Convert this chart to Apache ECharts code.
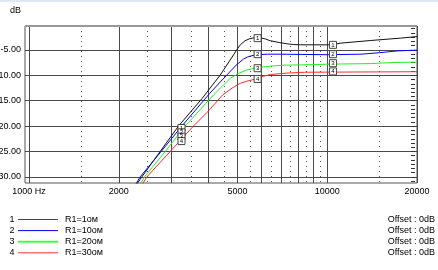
<!DOCTYPE html>
<html><head><meta charset="utf-8">
<script src="https://cdn.jsdelivr.net/npm/echarts@6/dist/echarts.min.js"></script>
<style>html,body{margin:0;padding:0;background:#fff}#c{width:438px;height:270px}</style>
</head><body><div id="c"></div>
<script>
// ---- data ----
const seriesNames = ['R1=1ом', 'R1=10ом', 'R1=20ом', 'R1=30ом'];
const seriesNumbers = ['1', '2', '3', '4'];
const offsetLabels = ['Offset : 0dB', 'Offset : 0dB', 'Offset : 0dB', 'Offset : 0dB'];
const yAxisTitle = 'dB';

// [frequency Hz, level dB]
const curveR1 = [[2300,-31.4],[2389,-30],[2752,-25],[3170,-20],[3800,-14.6],[4370,-10],[4750,-6.8],[4970,-5],[5110,-4.0],[5300,-3.2],[5500,-2.8],[5700,-2.62],[5950,-2.6],[6200,-2.85],[6440,-3.2],[6900,-3.55],[7320,-3.8],[7700,-3.95],[8120,-4.0],[10400,-4.01],[11060,-3.68],[13940,-3.16],[17580,-2.69],[20000,-2.38]];
const curveR10 = [[2280,-31.4],[2358,-30],[2773,-25],[3253,-20],[4030,-13.6],[4380,-11.3],[4610,-9.93],[4950,-8.0],[5240,-6.8],[5400,-6.4],[5590,-6.15],[5840,-5.95],[6300,-5.85],[7000,-5.85],[10000,-5.95],[13000,-5.85],[15000,-5.55],[17200,-5.2],[20000,-5.05]];
const curveR20 = [[2360,-31.4],[2437,-30],[2860,-25],[3338,-20],[3750,-16.75],[4155,-13.88],[4730,-10.58],[5050,-9.6],[5380,-8.94],[5830,-8.49],[6440,-8.2],[7200,-8.0],[8120,-7.96],[10400,-7.8],[13940,-7.7],[16300,-7.5],[20000,-7.4]];
const curveR30 = [[2400,-31.4],[2483,-30],[2973,-25],[3558,-20],[4000,-17.0],[4454,-13.88],[4800,-12.5],[5110,-11.57],[5350,-11.2],[5590,-10.92],[5830,-10.58],[6100,-10.2],[6440,-9.85],[7400,-9.55],[8410,-9.4],[20000,-9.3]];

const xMajorTicks = [1000,2000,3000,4000,5000,6000,7000,8000,9000,10000,20000];
const xMinorTicks = [1500,2500,3500,4500,5500,6500,7500,8500,9500,15000];
const xLabelTicks = [1000,2000,5000,10000,20000];
const yLabelTicks = [-30,-25,-20,-15,-10,-5];

// curve markers: frequency of each marker set, and box levels per curve
const markerFreqs = [3245, 5840, 10450];
const markerLevels = [
  [-20.38, -21.23, -22.08, -22.95],
  [-2.69, -5.85, -8.61, -10.72],
  [-4.01, -5.85, -7.62, -9.24]
];

// ---- styling / build ----
const curves = [curveR1, curveR10, curveR20, curveR30];
const colors = ['#111111', '#0000ff', '#22ee22', '#ff2a2a'];
const legendColors = ['#444444', '#0000ff', '#44ff44', '#ff3333'];
const legendWidths = [1, 1, 2, 1];
const FONT = '"Liberation Sans", Arial, sans-serif';
const X_MIN = 969, X_MAX = 20000, Y_MIN = -31.2, Y_MAX = -0.3;

const yMinor = [];
for (let k = -1; k < 40; k++) { const v = -30 + k * 5 / 6; if (v <= Y_MAX) yMinor.push(+v.toFixed(3)); }

const markerData = [];
markerFreqs.forEach((f, s) => markerLevels[s].forEach((db, i) => markerData.push([f, db, seriesNumbers[i]])));

const series = curves.map((c, i) => ({
  type: 'line', name: seriesNames[i], data: c, xAxisIndex: 0, yAxisIndex: 0,
  showSymbol: false, smooth: false, clip: true,
  lineStyle: { color: colors[i], width: 1 }, itemStyle: { color: colors[i] }, z: 3, animation: false
}));
series.push({
  type: 'scatter', data: markerData, xAxisIndex: 0, yAxisIndex: 0,
  symbol: 'rect', symbolSize: 7, z: 5, animation: false,
  itemStyle: { color: '#fff', borderColor: '#444', borderWidth: 1, opacity: 1 },
  label: { show: true, position: 'inside', formatter: p => p.data[2], fontSize: 6, color: '#000', fontFamily: FONT }
});

const rowsY = [219.5, 230.6, 241.7, 252.8];
const graphics = [
  { type: 'rect', shape: { x: 0, y: 0, width: 438, height: 2 }, style: { fill: '#dfe8f4' } },
  { type: 'line', shape: { x1: 25, y1: 26, x2: 417, y2: 26 }, style: { stroke: '#999', lineWidth: 2 }, z: 100 }
];
seriesNames.forEach((n, i) => {
  const y = rowsY[i];
  graphics.push({ type: 'text', x: 12, y: y, style: { text: seriesNumbers[i], fontSize: 9, fontFamily: FONT, fill: '#000', textAlign: 'center', textVerticalAlign: 'middle' } });
  graphics.push({ type: 'line', shape: { x1: 18, y1: y, x2: 58, y2: y }, style: { stroke: legendColors[i], lineWidth: legendWidths[i] } });
  graphics.push({ type: 'text', x: 65, y: y, style: { text: n, fontSize: 9, fontFamily: FONT, fill: '#000', textVerticalAlign: 'middle' } });
  graphics.push({ type: 'text', x: 435, y: y, style: { text: offsetLabels[i], fontSize: 9, fontFamily: FONT, fill: '#000', textAlign: 'right', textVerticalAlign: 'middle' } });
});

const chart = echarts.init(document.getElementById('c'), null, { renderer: 'canvas' });
chart.setOption({
  animation: false,
  backgroundColor: '#fff',
  grid: { left: 25, right: 21, top: 26, bottom: 87, show: true, borderColor: '#555', borderWidth: 1,
    containLabel: false, outerBoundsMode: 'none' },
  xAxis: [
    { type: 'log', logBase: 10, min: X_MIN, max: X_MAX, gridIndex: 0, position: 'bottom',
      axisLine: { show: false }, axisTick: { show: false, customValues: xMajorTicks },
      splitLine: { show: true, lineStyle: { color: '#4a4a4a', width: 1 } },
      axisLabel: { customValues: xLabelTicks, margin: 4, fontSize: 9, fontFamily: FONT, color: '#000',
        hideOverlap: false, formatter: v => (v === 1000 ? '1000 Hz' : String(v)) } },
    { type: 'log', logBase: 10, min: X_MIN, max: X_MAX, gridIndex: 0, position: 'bottom',
      axisLine: { show: false }, axisTick: { show: false, customValues: xMinorTicks },
      axisLabel: { show: false },
      splitLine: { show: true, lineStyle: { color: '#555', width: 1, type: [1, 4] } } }
  ],
  yAxis: [
    { type: 'value', min: Y_MIN, max: Y_MAX, gridIndex: 0,
      name: yAxisTitle, nameLocation: 'end', nameGap: 15.5,
      nameTextStyle: { fontSize: 9, fontFamily: FONT, color: '#000', align: 'right', verticalAlign: 'middle', padding: [0, 4, 0, 0] },
      axisLine: { show: false }, axisTick: { show: false, customValues: yLabelTicks },
      splitLine: { show: true, lineStyle: { color: '#4a4a4a', width: 1 } },
      axisLabel: { customValues: yLabelTicks, margin: 4, fontSize: 9, fontFamily: FONT, color: '#000',
        hideOverlap: false, formatter: v => v.toFixed(2) } },
    { type: 'value', min: Y_MIN, max: Y_MAX, gridIndex: 0, offset: -2,
      axisLine: { show: false }, axisLabel: { show: false }, splitLine: { show: false },
      axisTick: { show: true, inside: true, length: 4, customValues: yMinor, lineStyle: { color: '#333', width: 1 } } }
  ],
  series: series,
  graphic: graphics
});
</script></body></html>
